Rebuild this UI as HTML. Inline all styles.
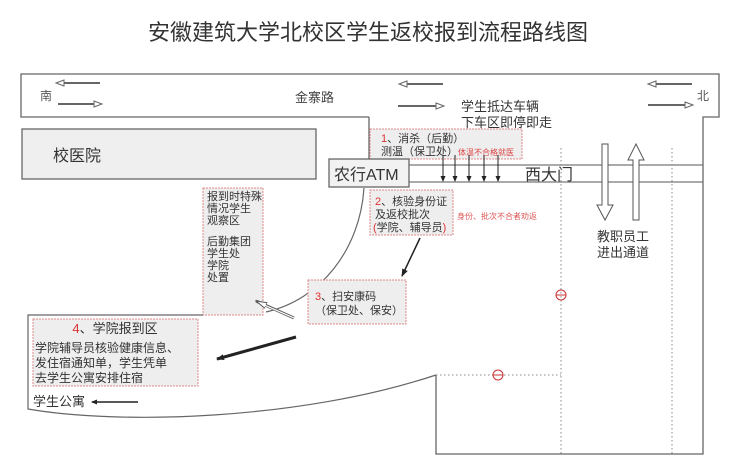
<!DOCTYPE html>
<html><head><meta charset="utf-8"><style>
html,body{margin:0;padding:0;background:#fff}
svg{display:block}
text{font-family:"Liberation Sans","Noto Sans CJK SC",sans-serif}
</style></head><body>
<svg width="737" height="468" viewBox="0 0 737 468" xmlns="http://www.w3.org/2000/svg" fill="#333">
<defs>
<marker id="ah" markerWidth="8" markerHeight="8" refX="7" refY="4" orient="auto" markerUnits="userSpaceOnUse"><path d="M0,1 L8,4 L0,7 Z" fill="#222"/></marker>
<marker id="ahs" markerWidth="6" markerHeight="6" refX="5" refY="3" orient="auto" markerUnits="userSpaceOnUse"><path d="M0,0.5 L6,3 L0,5.5 Z" fill="#222"/></marker>
<marker id="aho" markerWidth="12" markerHeight="8" refX="11" refY="4" orient="auto" markerUnits="userSpaceOnUse"><path d="M0,1 L11,4 L0,7 Z" fill="#fff" stroke="#555" stroke-width="1"/></marker>
</defs>
<text x="368" y="40" font-size="22" text-anchor="middle" fill="#333">安徽建筑大学北校区学生返校报到流程路线图</text>

<path d="M369,117 H21 V74 H719 V117 H703 V454 H436 V375" fill="none" stroke="#666" stroke-width="1.3"/>
<path d="M369,117 V159" fill="none" stroke="#666" stroke-width="1.3"/>
<text x="40" y="100" font-size="12" fill="#555">南</text>
<text x="295" y="102" font-size="13" fill="#444">金寨路</text>
<text x="697" y="100" font-size="12" fill="#555">北</text>
<g stroke="#666" stroke-width="2" fill="none">
<path d="M100,83 H62"/><path d="M58,104 H96"/>
<path d="M443,84 H405"/><path d="M398,106 H436"/>
<path d="M692,84 H654"/><path d="M648,105 H686"/>
</g>
<g fill="#fff" stroke="#666" stroke-width="1">
<path d="M56,83 L64,80 L64,86 Z"/><path d="M102,104 L94,101 L94,107 Z"/>
<path d="M399,84 L407,81 L407,87 Z"/><path d="M444,106 L436,103 L436,109 Z"/>
<path d="M648,84 L656,81 L656,87 Z"/><path d="M693,105 L685,102 L685,108 Z"/>
</g>
<text x="461" y="111" font-size="13" fill="#333">学生抵达车辆</text>
<text x="461" y="127" font-size="13" fill="#333">下车区即停即走</text>

<rect x="22" y="129" width="294" height="50" fill="#efefef" stroke="#666" stroke-width="1.3"/>
<text x="53" y="161" font-size="16" fill="#333">校医院</text>

<path d="M409,165 H703 M409,182 H703" stroke="#777" stroke-width="1.2"/>
<text x="525" y="180" font-size="16" fill="#333">西大门</text>

<g stroke="#888" stroke-width="1" stroke-dasharray="1.5,2.5">
<path d="M561,148 V454"/><path d="M672,148 V454"/><path d="M436,375 H561"/>
</g>
<g fill="none" stroke="#c33" stroke-width="1">
<circle cx="561" cy="295" r="5"/><path d="M556,295 H566"/>
<circle cx="498" cy="375" r="5"/><path d="M493,375 H503"/>
</g>

<g fill="#fff" stroke="#555" stroke-width="1">
<path d="M602,144 H608 V205 H613 L605,220 L597,205 H602 Z"/>
<path d="M633,220 H639 V160 H644 L636,144 L628,160 H633 Z"/>
</g>
<text x="597" y="241" font-size="13" fill="#333">教职员工</text>
<text x="597" y="257" font-size="13" fill="#333">进出通道</text>

<rect x="370" y="129" width="152" height="30" fill="#eeeeee" stroke="#d88" stroke-width="1" stroke-dasharray="2,1"/>
<text x="381" y="142" font-size="11" fill="#333"><tspan fill="#d33">1</tspan>、消杀（后勤）</text>
<text x="381" y="155" font-size="11" fill="#333">测温（保卫处）<tspan fill="#d44" font-size="8">体温不合格就医</tspan></text>
<g stroke="#222" stroke-width="1" marker-end="url(#ahs)">
<path d="M443,155 V181"/><path d="M455,155 V181"/><path d="M469,155 V181"/><path d="M484,155 V181"/><path d="M498,155 V181"/>
</g>

<rect x="329" y="159" width="80" height="28" fill="#f2f2f2" stroke="#666" stroke-width="1.3"/>
<text x="334" y="180" font-size="16" fill="#333">农行ATM</text>

<path d="M364,188 C360,250 320,300 266,312" fill="none" stroke="#666" stroke-width="1.2"/>

<rect x="370" y="190" width="83" height="45" fill="#eeeeee" stroke="#d88" stroke-width="1" stroke-dasharray="2,1"/>
<text x="375" y="205" font-size="11" fill="#333"><tspan fill="#d33">2</tspan>、核验身份证</text>
<text x="375" y="218" font-size="11" fill="#333">及返校批次</text>
<text x="373" y="231" font-size="11" fill="#333"><tspan fill="#d33">(</tspan>学院、辅导员<tspan fill="#d33">)</tspan></text>
<text x="457" y="219" font-size="8" fill="#d55">身份、批次不合者劝返</text>
<path d="M420,238 L402,276" stroke="#222" stroke-width="1.5" marker-end="url(#ah)"/>

<rect x="203" y="188" width="60" height="127" fill="#eeeeee" stroke="#d88" stroke-width="1" stroke-dasharray="2,1"/>
<g font-size="11" fill="#333">
<text x="207" y="200">报到时特殊</text>
<text x="207" y="212">情况学生</text>
<text x="207" y="224">观察区</text>
<text x="207" y="245">后勤集团</text>
<text x="207" y="257">学生处</text>
<text x="207" y="269">学院</text>
<text x="207" y="281">处置</text>
</g>
<path d="M294,318 L256,301" stroke="#666" stroke-width="3" marker-end="url(#aho)"/>
<path d="M294,318 L262,304" stroke="#fff" stroke-width="1.2"/>

<rect x="308" y="280" width="98" height="44" fill="#eeeeee" stroke="#d88" stroke-width="1" stroke-dasharray="2,1"/>
<text x="315" y="300" font-size="11" fill="#333"><tspan fill="#d33">3</tspan>、扫安康码</text>
<text x="315" y="314" font-size="11" fill="#333">（保卫处、保安）</text>

<path d="M203,315 H28 V409 C120,425 300,420 436,375" fill="none" stroke="#666" stroke-width="1.2"/>
<rect x="33" y="319" width="165" height="67" fill="#eeeeee" stroke="#d88" stroke-width="1" stroke-dasharray="2,1"/>
<text x="115" y="333" font-size="13" text-anchor="middle" fill="#333"><tspan fill="#d33">4</tspan>、学院报到区</text>
<g font-size="12" fill="#333">
<text x="35" y="352">学院辅导员核验健康信息、</text>
<text x="35" y="367">发住宿通知单，学生凭单</text>
<text x="35" y="382">去学生公寓安排住宿</text>
</g>
<path d="M296,337 L217,359" stroke="#222" stroke-width="3" marker-end="url(#ah)"/>
<text x="33" y="406" font-size="13" fill="#333">学生公寓</text>
<path d="M138,402 L92,402" stroke="#222" stroke-width="1.5" marker-end="url(#ahs)"/>
</svg>
</body></html>
